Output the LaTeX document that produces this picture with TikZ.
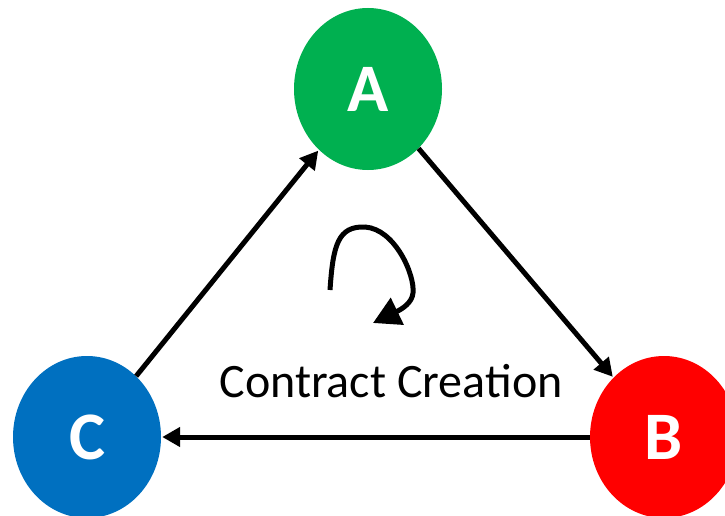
\documentclass[tikz,border=0pt]{standalone}
\usepackage{fontspec}
\setmainfont{Carlito}
\usetikzlibrary{arrows.meta,shapes.geometric}
\definecolor{agreen}{HTML}{00B050}
\definecolor{bred}{HTML}{FF0000}
\definecolor{cblue}{HTML}{0070C0}
\tikzset{
  party/.style={ellipse,draw=none,minimum width=148pt,minimum height=162pt,inner sep=0pt,
    text=white,font=\fontsize{68}{72}\selectfont\bfseries},
  link/.style={line width=5pt,-{Triangle[length=18pt,width=19pt]},shorten >=1pt},
  lbl/.style={font=\fontsize{48}{52}\selectfont}
}
\begin{document}
\begin{tikzpicture}[x=1pt,y=-1pt]
\useasboundingbox (0,0) rectangle (725,516);
\clip (0,0) rectangle (725,516);
\fill[white] (0,0) rectangle (725,516);
\node[party,fill=agreen] (A) at (368,89) {A};
\node[party,fill=bred] (B) at (664,437) {B};
\node[party,fill=cblue] (C) at (87,437) {C};
\draw[link] (C) -- (A);
\draw[link] (A) -- (B);
\draw[link] (B) -- (C);
\coordinate (s) at (330,290);
\coordinate (t) at (373,323);
\draw[line width=5pt,-{Triangle[length=27pt,width=29pt]}] (s) .. controls (333,245) and (338,226) .. (365,227) .. controls (395,229) and (415,275) .. (413,293) .. controls (412,303) and (402,309) .. (t);
\node[lbl] (L) at (391,381) {Contract Creation};
\end{tikzpicture}
\end{document}
